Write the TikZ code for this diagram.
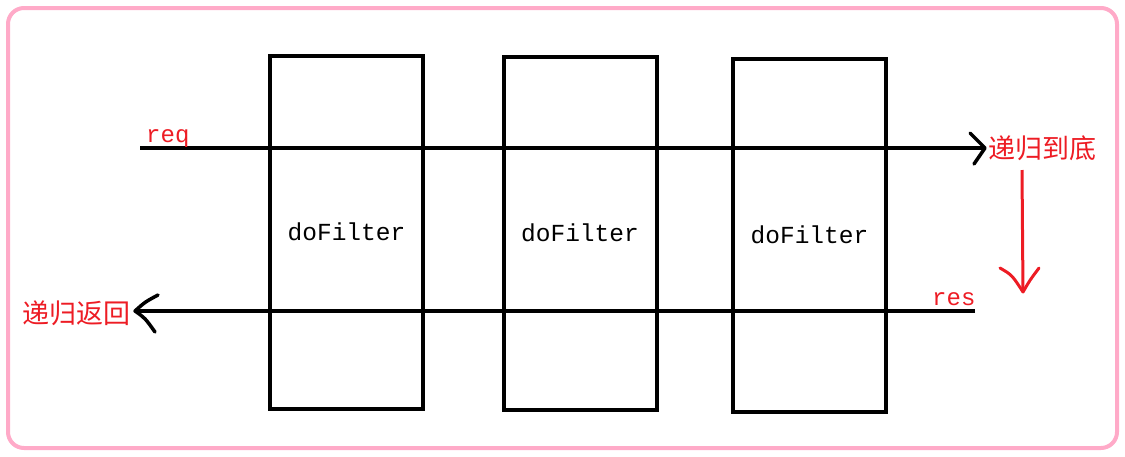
\documentclass[tikz,border=0pt]{standalone}
\usepackage{fontspec}
\setmonofont{Liberation Mono}
\newfontfamily\cjk{Noto Sans CJK SC}
\definecolor{pinkframe}{HTML}{FFAAC8}
\definecolor{redtxt}{HTML}{ED1C24}
\begin{document}
\begin{tikzpicture}[x=1pt,y=-1pt,
  filterbox/.style={draw=black,line width=4pt,minimum width=153pt,minimum height=353pt,inner sep=0pt,font=\ttfamily\fontsize{24.5}{26}\selectfont},
  flow/.style={draw=black,line width=4pt},
  redlabel/.style={text=redtxt,inner sep=0pt},
  barb/.style={draw,line width=3.5pt,line cap=round,line join=round}]
\useasboundingbox (0,0) rectangle (1125,456);
\draw[pinkframe,line width=4pt,rounded corners=16pt] (8,8) rectangle (1117,448);
\node[filterbox] (f1) at (346.5,232) {doFilter};
\node[filterbox] (f2) at (580,233) {doFilter};
\node[filterbox] (f3) at (809.5,235) {doFilter};
\coordinate (reqstart) at (140,148);
\coordinate (reqend) at (985,148);
\coordinate (resstart) at (975,311);
\coordinate (resend) at (135,311);
\draw[flow] (reqstart) -- (reqend);
\draw[barb,black] (970,133) -- (reqend) -- (974,164);
\draw[flow] (resstart) -- (resend);
\draw[barb,black] (158,295) .. controls (145,302) .. (resend) .. controls (145,318) .. (155,332);
\node[redlabel,font=\ttfamily\fontsize{24}{26}\selectfont,anchor=base west] (req) at (146,142) {req};
\node[redlabel,font=\ttfamily\fontsize{24}{26}\selectfont,anchor=base west] (res) at (932,305) {res};
\node[redlabel,font=\cjk\fontsize{27}{29}\selectfont,anchor=west] (bottom) at (988,148) {递归到底};
\node[redlabel,font=\cjk\fontsize{27}{29}\selectfont,anchor=east] (back) at (131,313) {递归返回};
\coordinate (rtop) at (1022,170);
\coordinate (rbot) at (1023,292);
\draw[redtxt,line width=3pt] (rtop) -- (rbot);
\draw[barb,redtxt,line width=3pt] (1000,268) .. controls (1012,275) .. (rbot) .. controls (1030,280) .. (1039,268);
\end{tikzpicture}
\end{document}
